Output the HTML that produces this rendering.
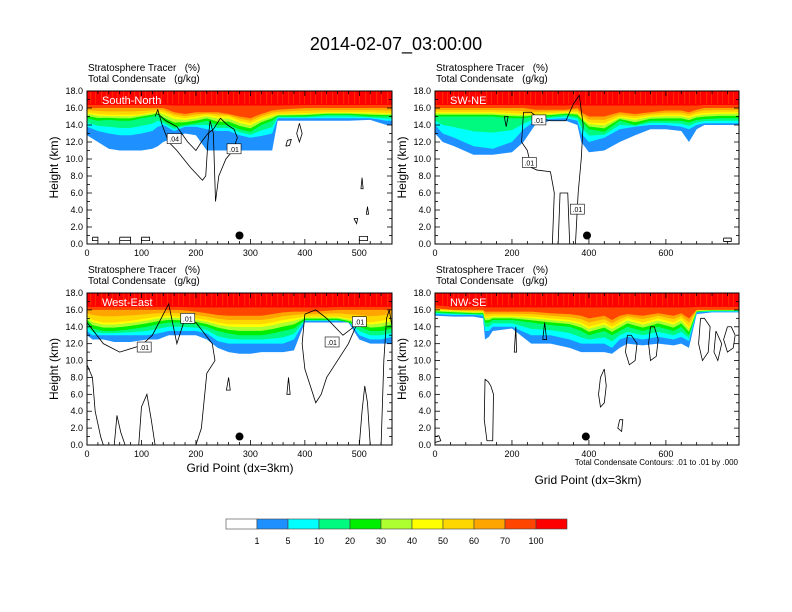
<!DOCTYPE html>
<html><head><meta charset="utf-8"><style>
html,body{margin:0;padding:0;background:#fff;}
svg{display:block;font-family:"Liberation Sans",Arial,sans-serif;}
</style></head><body>
<svg id="chart" width="792" height="612" viewBox="0 0 792 612" xmlns="http://www.w3.org/2000/svg">
<defs>
<pattern id="streaks" width="11" height="40" patternUnits="userSpaceOnUse">
<rect x="2" y="0" width="1.2" height="40" fill="#ff4500"/>
<rect x="7" y="12" width="1" height="28" fill="#ff4500"/>
</pattern>
</defs>
<text x="396" y="50" font-size="18" text-anchor="middle">2014-02-07_03:00:00</text>
<g id="panels"></g>
<g id="colorbar"></g>
</svg>
<script>
// ---- color levels ----
const levelLabels = ["1","5","10","20","30","40","50","60","70","100"];
const levelColors = ["#ffffff","#1e90ff","#00ffff","#00fa80","#00ee00","#adff2f","#ffff00","#ffd700","#ffa500","#ff4500","#ff0000"];
const yTicks = [0,2,4,6,8,10,12,14,16,18];

// ---- South-North ----
const snXs =     [0,20,40,60,80,100,120,130,140,160,180,200,220,240,260,280,300,320,340,350,400,440,480,520,550,560];
const snBlue =   [12.8,12,11.2,11,11,11,11.2,11.5,12,12.5,13,12.8,11,11,11,11,11,11,11,14.5,14.5,14.5,14.5,14.6,14,14];
const snCyan =   [13.8,13.3,13,12.8,12.8,13,13.3,13.8,14,13.3,13.8,13.8,13.5,13.3,13.3,12.8,12.5,12.7,13,14.8,14.8,14.8,14.8,14.8,14.5,14.5];
const snGreen =  [14.8,14.5,14.6,14.5,14.5,14.8,15,15.2,14.5,13.8,14,14.2,14.5,14,14,13.5,13.2,14,14.5,15,15,15.2,15.2,15,15,15];
const snYellow = [15.5,15.3,15.2,15.2,15.2,15.3,15.5,15.6,15.5,15,14.8,15,15.2,15,15,14.5,14.2,14.8,15.2,15.3,15.4,15.5,15.5,15.5,15.4,15.4];
const snOrange = [16,16,16,16,16,16,16,16,16,15.5,15.3,15.5,15.5,15.5,15.3,15,14.8,15.3,15.7,15.8,16,16,16,16,16,16];
const snContours = [
 [[125,15],[130,15.8],[138,14],[150,12],[165,11],[190,9],[212,7.5],[218,8],[222,12],[226,14.5],[232,13],[236,5],[242,8],[255,10],[268,11],[276,12.5],[270,13.5],[258,14],[245,14.8],[232,13.5],[222,13],[210,12],[200,11],[185,12],[165,13.8],[145,14.5],[130,15.3]],
 [[390,14.2],[385,13],[390,12],[395,13],[390,14.2]],
 [[365,11.5],[368,12.2],[375,12.3],[372,11.6],[365,11.5]],
 [[505,7.8],[503,6.5],[507,6.5],[505,7.8]],
 [[515,4.4],[513,3.5],[517,3.5],[515,4.4]],
 [[490,3],[495,2.4],[497,3],[490,3]],
 [[10,0.8],[20,0.8],[20,0.4],[10,0.4],[10,0.8]],
 [[60,0.8],[80,0.8],[80,0.4],[60,0.4],[60,0.8]],
 [[100,0.8],[115,0.8],[115,0.4],[100,0.4],[100,0.8]],
 [[500,0.9],[515,0.9],[515,0.4],[500,0.4],[500,0.9]]
];

// ---- SW-NE ----
const swXs =     [0,20,50,100,150,200,230,260,300,340,370,380,400,440,480,520,560,600,640,660,680,700,740,790];
const swBlue =   [13,12,11.5,10.5,10.5,10.8,12,14,14.5,14.5,14,12,10.8,11,12,12.8,13.5,13.5,13.3,12,13.5,14,14,14];
const swCyan =   [14,13,12.5,11.5,11.2,12,13.5,14.5,14.7,14.8,14.5,13,12,12.5,13.5,13.8,14,14,13.8,13.5,14,14.2,14.2,14.2];
const swGreen =  [15,15,15,15,15,14.8,14.8,15,15,15.2,15,14.5,13.5,13.2,14.5,14,14.5,14.5,14.5,14.3,14.6,14.7,14.8,14.8];
const swYellow = [15.5,15.5,15.5,15.5,15.5,15.4,15.3,15.3,15.4,15.5,15.5,15,14.3,14.2,15,14.8,15.1,15.2,15.2,15,15.3,15.4,15.5,15.5];
const swOrange = [16,16,16,16,16,16,16,15.8,15.8,15.8,16,15.5,15,15,15.5,15.3,15.5,15.7,15.7,15.5,15.8,16,16,16];
const swContours = [
 [[230,15.5],[225,12],[240,11],[250,9],[265,8.7],[300,8.5],[310,6],[305,0],[320,0],[325,6],[345,6],[350,0],[365,0],[372,6],[380,10],[385,14],[375,17.5],[360,16.5],[340,14.5],[300,14.5],[270,14.8],[250,15.5],[230,15.5]],
 [[180,15],[185,13.8],[190,15],[180,15]],
 [[750,0.7],[770,0.7],[770,0.3],[750,0.3],[750,0.7]]
];

// ---- West-East ----
const weXs =     [0,10,30,50,80,110,130,150,170,200,220,240,260,280,300,320,340,360,380,400,420,440,460,480,500,520,540,560];
const weBlue =   [13,12.5,12.5,12.2,12.2,12.5,12.5,13,13,13,12.5,11.5,11,10.8,10.8,11,11,11,11.2,14.5,14.5,14.5,14.5,14.5,12.5,12,12,12];
const weCyan =   [13.5,13,13,13,13,13,13.2,13.5,13.5,13.5,13.2,12.3,12,12,12,12,12,12,12.5,14.7,14.7,14.7,14.7,14.7,13,12.5,12.5,12.8];
const weGreen =  [14.5,13.8,13.5,13.5,13.7,14,14.3,14.5,14.5,14.3,14,13.5,13.2,13,13,13,13.2,13.5,13.8,14.8,14.8,14.8,14.8,14.5,14,13.5,13.5,13.8];
const weYellow = [15.3,14.8,14.5,14.5,14.7,15,15.2,15.3,15.2,15,14.8,14.5,14.3,14.3,14.3,14.3,14.5,14.8,15,15.2,15.2,15.2,15.2,15,14.8,14.5,14.7,15];
const weOrange = [16,16,16,16,16,16,16,16,16,15.8,15.6,15.4,15.3,15.3,15.3,15.3,15.5,15.7,15.8,15.8,15.8,15.9,16,16,16,16,16,16];
const weContours = [
 [[0,14.5],[30,12],[60,11],[100,11.8],[120,13],[150,16.7],[165,12],[180,15],[200,14.5],[230,12],[235,10],[220,8.5],[210,2],[200,0]],
 [[0,9.5],[10,8],[15,4],[25,1],[30,0]],
 [[50,0],[55,3.5],[62,1.5],[70,0]],
 [[95,0],[100,4.5],[110,6],[118,3],[125,0]],
 [[400,15.5],[420,16],[440,15],[470,13],[490,14],[500,15],[480,12],[460,10],[440,8],[430,6],[420,5],[410,7],[400,9],[395,12],[400,15.5]],
 [[540,0],[545,10],[550,15],[555,16],[560,14]],
 [[520,0],[515,5],[510,7],[505,4],[500,0]],
 [[370,8],[367,6],[373,6],[370,8]],
 [[260,8],[256,6.5],[263,6.5],[260,8]]
];

// ---- NW-SE ----
const nwXs =     [0,50,100,125,130,140,150,200,250,300,350,380,400,440,460,480,500,540,580,620,640,660,680,720,790];
const nwBlue =   [15.3,15.2,15.2,15,12.5,12.8,13.5,13.8,12,12,11.5,11,11,11,10.8,11.5,12,11.8,12,11.8,12,11.5,15.5,15.7,15.7];
const nwCyan =   [15.5,15.4,15.4,15.3,13.5,13.5,14,14,13,13,12.5,12,12,12,11.5,12.5,12.8,12.5,12.8,12.5,12.8,12.3,15.7,15.8,15.8];
const nwGreen =  [15.7,15.6,15.5,15.5,14.5,14.5,14.8,14.8,14.5,14.2,14,13.5,13,13.5,13,13.5,14,13.5,14,13.5,14,13,15.8,15.9,15.9];
const nwYellow = [16,15.9,15.8,15.8,15.2,15.2,15.3,15.3,15.2,15,14.8,14.5,14,14.5,14,14.5,15,14.5,15,14.5,15,14,15.9,16,16];
const nwOrange = [16.2,16,16,16,15.8,15.8,15.8,15.8,15.8,15.6,15.5,15.3,15,15.3,14.8,15.3,15.5,15.3,15.6,15.3,15.6,15,16,16,16];
const nwContours = [
 [[130,7.8],[128,3],[135,0.5],[150,0.5],[152,6],[145,7],[138,7.5],[130,7.8]],
 [[440,9],[430,8],[425,6],[430,4.5],[440,5],[445,7],[440,9]],
 [[560,14],[555,12],[560,10],[575,10.5],[580,12.5],[570,14],[560,14]],
 [[500,13],[495,11],[505,9.5],[520,10],[525,12],[510,13],[500,13]],
 [[690,15],[685,12],[695,10],[710,11],[715,14],[700,15],[690,15]],
 [[760,14],[750,12.5],[760,11],[775,11.5],[780,13],[770,14],[760,14]],
 [[730,13.5],[725,11],[735,10],[745,12],[730,13.5]],
 [[285,14.5],[280,12.5],[290,12.5],[285,14.5]],
 [[210,14],[206,11],[212,11],[210,14]],
 [[480,3],[475,2],[485,1.6],[488,3],[480,3]],
 [[0,1],[10,1.1],[15,0.5],[0,0.3]]
];

const panels = [
 {key:"south-north",label:"South-North",x0:87,x1:392,y0:91,y1:244,xmax:560,xt:[0,100,200,300,400,500],minor:20,
  xs:snXs,b:[snBlue,snCyan,snGreen,snYellow,snOrange],c:snContours,dot:[280,1],boxes:[[160,12.4,".04"],[270,11.2,".01"]]},
 {key:"sw-ne",label:"SW-NE",x0:435,x1:739,y0:91,y1:244,xmax:790,xt:[0,200,400,600],minor:40,
  xs:swXs,b:[swBlue,swCyan,swGreen,swYellow,swOrange],c:swContours,dot:[395,1],boxes:[[245,9.6,".01"],[270,14.6,".01"],[370,4.1,".01"]]},
 {key:"west-east",label:"West-East",x0:87,x1:392,y0:293,y1:445,xmax:560,xt:[0,100,200,300,400,500],minor:20,
  xs:weXs,b:[weBlue,weCyan,weGreen,weYellow,weOrange],c:weContours,dot:[280,1],boxes:[[105,11.6,".01"],[185,15,".01"],[450,12.2,".01"],[500,14.6,".01"]]},
 {key:"nw-se",label:"NW-SE",x0:435,x1:739,y0:293,y1:445,xmax:790,xt:[0,200,400,600],minor:40,
  xs:nwXs,b:[nwBlue,nwCyan,nwGreen,nwYellow,nwOrange],c:nwContours,dot:[392,1],boxes:[]}
];

const NS="http://www.w3.org/2000/svg";
function mk(tag,attrs,parent){const e=document.createElementNS(NS,tag);for(const k in attrs)e.setAttribute(k,attrs[k]);parent.appendChild(e);return e;}
const root=document.getElementById("panels");

panels.forEach(p=>{
  const g=mk("g",{},root);
  
  
  const sx=v=>p.x0+(v/p.xmax)*(p.x1-p.x0);
  const sy=h=>p.y1-(h/18)*(p.y1-p.y0);
  const clipId="clip-"+p.key;
  const cp=mk("clipPath",{id:clipId},g);mk("rect",{x:p.x0,y:p.y0,width:p.x1-p.x0,height:p.y1-p.y0},cp);
  const plot=mk("g",{"clip-path":"url(#"+clipId+")"},g);
  const [bl,cy,gr,ye,or]=p.b;
  const lerp=(a,b,t)=>a.map((v,i)=>v+(b[i]-v)*t);
  const red=or.map(v=>Math.max(v+0.35,16.3));
  const levels=[bl,cy,lerp(cy,gr,0.5),gr,lerp(gr,ye,0.4),lerp(gr,ye,0.75),ye,lerp(ye,or,0.5),or,red];
  levels.forEach((arr,i)=>{
    let d="M"+sx(p.xs[0])+","+sy(18.5);
    p.xs.forEach((x,j)=>{d+=" L"+sx(x)+","+sy(arr[j]);});
    d+=" L"+sx(p.xs[p.xs.length-1])+","+sy(18.5)+"Z";
    const band=mk("path",{d:d,fill:levelColors[i+1]},plot);
    
    
  });
  mk("rect",{x:p.x0,y:sy(18),width:p.x1-p.x0,height:sy(16.5)-sy(18),fill:"url(#streaks)",opacity:"0.55"},plot);
  p.c.forEach(line=>{
    const cl=mk("polyline",{points:line.map(q=>sx(q[0])+","+sy(q[1])).join(" "),fill:"none",stroke:"#000","stroke-width":"0.8"},plot);
    
    
  });
  p.boxes.forEach(bx=>{
    const bg=mk("g",{},plot);
    
    
    mk("rect",{x:sx(bx[0])-7,y:sy(bx[1])-5,width:14,height:10,fill:"#fff",stroke:"#000","stroke-width":"0.6"},bg);
    mk("text",{x:sx(bx[0]),y:sy(bx[1])+3,"font-size":"7","text-anchor":"middle"},bg).textContent=bx[2];
  });
  const dot=mk("circle",{cx:sx(p.dot[0]),cy:sy(p.dot[1]),r:4,fill:"#000"},plot);
  
  
  const lab=mk("text",{x:p.x0+15,y:p.y0+13,"font-size":"11",fill:"#fff"},g);
  lab.textContent=p.label;
  
  
  mk("rect",{x:p.x0,y:p.y0,width:p.x1-p.x0,height:p.y1-p.y0,fill:"none",stroke:"#000","stroke-width":"1"},g);
  const ya=mk("g",{},g);
  
  
  for(let h=0;h<=18;h+=1){
    const L=(h%2===0)?5:3;
    mk("line",{x1:p.x0,x2:p.x0+L,y1:sy(h),y2:sy(h),stroke:"#000","stroke-width":"0.8"},ya);
    mk("line",{x1:p.x1,x2:p.x1-L,y1:sy(h),y2:sy(h),stroke:"#000","stroke-width":"0.8"},ya);
  }
  yTicks.forEach(h=>{mk("text",{x:p.x0-4,y:sy(h)+3,"font-size":"9","text-anchor":"end"},ya).textContent=h.toFixed(1);});
  const yx=p.x0-29, ym=(p.y0+p.y1)/2;
  const yt=mk("text",{x:yx,y:ym,"font-size":"12","text-anchor":"middle",transform:"rotate(-90 "+yx+" "+ym+")"},g);
  yt.textContent="Height (km)";
  
  
  const xa=mk("g",{},g);
  
  
  for(let v=0;v<=p.xmax;v+=p.minor){
    const L=(v%(p.xt[1])===0)?5:3;
    mk("line",{x1:sx(v),x2:sx(v),y1:p.y1,y2:p.y1-L,stroke:"#000","stroke-width":"0.8"},xa);
    mk("line",{x1:sx(v),x2:sx(v),y1:p.y0,y2:p.y0+L,stroke:"#000","stroke-width":"0.8"},xa);
  }
  p.xt.forEach(v=>{mk("text",{x:sx(v),y:p.y1+12,"font-size":"9","text-anchor":"middle"},xa).textContent=v;});
  const st1=mk("text",{x:p.x0+1,y:p.y0-20,"font-size":"10"},g);st1.textContent="Stratosphere Tracer\u00a0\u00a0\u00a0(%)";
  
  
  const st2=mk("text",{x:p.x0+1,y:p.y0-9,"font-size":"10"},g);st2.textContent="Total Condensate\u00a0\u00a0\u00a0(g/kg)";
  
  
});
const svg=document.getElementById("chart");
const xt1=mk("text",{x:240,y:472,"font-size":"12","text-anchor":"middle"},svg);xt1.textContent="Grid Point (dx=3km)";


const xt2=mk("text",{x:588,y:484,"font-size":"12","text-anchor":"middle"},svg);xt2.textContent="Grid Point (dx=3km)";


const cn=mk("text",{x:738,y:465,"font-size":"8","text-anchor":"end"},svg);cn.textContent="Total Condensate Contours: .01 to .01 by .000";


const cb=document.getElementById("colorbar");
const cbx=226,cbw=31,cby=519,cbh=10;
levelColors.forEach((c,i)=>{
  const r=mk("rect",{x:cbx+i*cbw,y:cby,width:cbw,height:cbh,fill:c,stroke:"#444","stroke-width":"0.6"},cb);
  
  
});
levelLabels.forEach((t,i)=>{
  const tx=mk("text",{x:cbx+(i+1)*cbw,y:544,"font-size":"9","text-anchor":"middle"},cb);
  tx.textContent=t;
  
  
});
</script>
</body></html>
